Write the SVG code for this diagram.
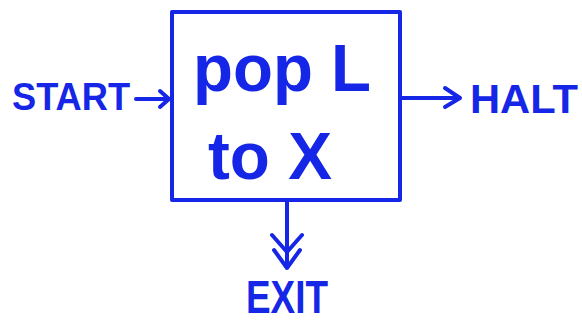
<svg xmlns="http://www.w3.org/2000/svg" width="582" height="323" viewBox="0 0 582 323">
<style>
.ln{fill:none;stroke:#1626e6;stroke-width:4;stroke-linecap:round;stroke-linejoin:round}
.t{fill:#1626e6;font-family:"Liberation Sans",Arial,sans-serif;font-weight:bold}
</style>
<rect width="582" height="323" fill="#fff"/>
<g id="box">
<rect class="ln" x="172" y="12" width="228" height="188"/>
<text class="t" x="193" y="91" font-size="67" textLength="178" lengthAdjust="spacingAndGlyphs">pop L</text>
<text class="t" x="208" y="179" font-size="67" textLength="124" lengthAdjust="spacingAndGlyphs">to X</text>
</g>
<g id="start"><text class="t" x="12" y="110" font-size="39" textLength="118" lengthAdjust="spacingAndGlyphs">START</text></g>
<g id="halt"><text class="t" x="470" y="113" font-size="41" textLength="108" lengthAdjust="spacingAndGlyphs">HALT</text></g>
<g id="exit"><text class="t" x="246" y="313" font-size="46" textLength="82" lengthAdjust="spacingAndGlyphs">EXIT</text></g>
<g id="connectors">
<path class="ln" d="M136 99 H169 M160 91 L169 99 L160 107"/>
<path class="ln" d="M402 98 H460 M445 88 L460 98 L445 107"/>
<path class="ln" d="M287 202 V268 M272 235 L287 252 L302 235 M274 250 L287 268 L300 250"/>
</g>
</svg>
